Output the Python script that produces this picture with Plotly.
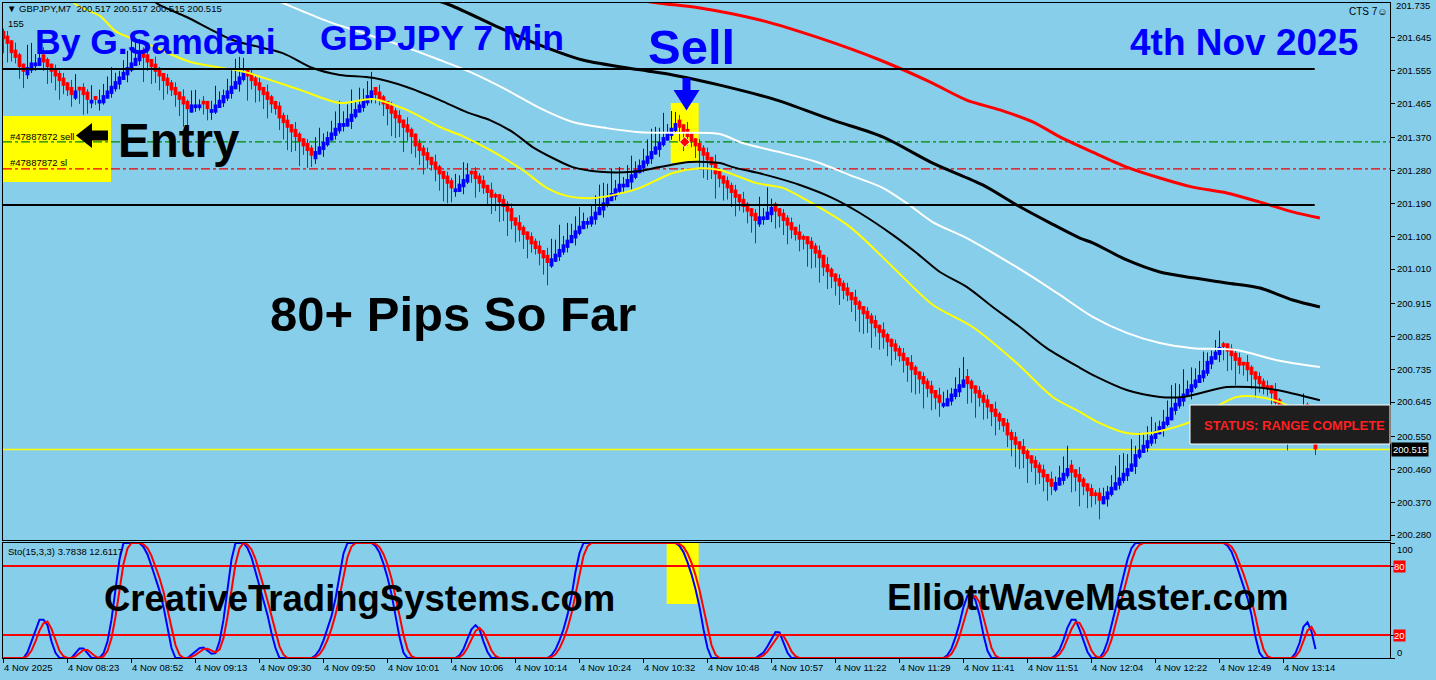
import numpy as np
import plotly.graph_objects as go

# ---------------- data ----------------
BRICK = 0.0128
PRIOR_CLOSE = 201.654
# one character per bar: u/d = one brick up/down, U/D = two, T = three down, +/- = small blue/red doji
MOVE_RUNS = [
    "d",
    "dDdDd",
    "uu+u",
    "ddddddddu-dd+-+",
    "uuuuuuuuuu",
    "dddddddddddd",
    "u++-d+",
    "uuuuuuuu",
    "dddddddd" "D" "dddddddd",
    "uuuuuuu" "+" "uuuuuuu",
    "dddddddddd" "D" "ddddddddd",
    "+uuu-",
    "ddddd" "-" "ddd" "D" "ddddddddd",
    "uuuuuuuuu" "+" "uuuuuuuu" "+" "uuuuuuuuuuuuu",
    "ddddddddd" "D" "dddddddddd",
    "u+uu",
    "ddddddd" "-" "dddd" "D" "dddddddddd" "dddddddddd" "ddddddddd",
    "+uuuuu",
    "dddddddddd" "D" "ddddddddddd",
    "uuuu",
    "dddddd-d",
    "uuuuuuuuU" "uuuuuuuuU" "uuuuuuuuU" "uuu",
    "-" "dddd-ddddd-d" "DdDDD" "UUU" "TTT",
]
WICK_LONG = [3.0, 4.0, 1.8, 1.2, 2.5, 3.5, 4.8, 4.2, 3.0, 5.2, 1.8, 3.6, 2.4]
WICK_SHORT = [0.5, 1.0, 0.0, 1.5, 0.3, 0.0, 0.8]

MA_YELLOW_X = [14.1, 18.3, 24.1, 28.3, 36.6, 46.6, 60.3, 74.1, 84.1, 92.3, 100.8, 109.1, 114.8, 121.6,
               129.8, 135.8, 140.8, 147.3, 152.3, 159.1, 167.3, 174.1, 179.1, 188.3, 194.8, 201.6,
               211.6, 222.3, 232.3, 242.3, 253.3, 262.3, 269.1, 274.1, 280.8, 286.6, 296.6, 308.3,
               317.3, 328.6]
MA_YELLOW_Y = [201.776, 201.735, 201.705, 201.661, 201.625, 201.579, 201.551, 201.502, 201.466, 201.477,
               201.447, 201.400, 201.375, 201.337, 201.282, 201.233, 201.211, 201.205, 201.213, 201.233,
               201.274, 201.287, 201.282, 201.246, 201.233, 201.194, 201.126, 201.016, 200.912, 200.851,
               200.752, 200.659, 200.618, 200.587, 200.560, 200.560, 200.590, 200.659, 200.651, 200.596]

MA_WHITE_X = [65.3, 74.1, 81.6, 89.1, 99.1, 109.1, 117.3, 125.8, 134.1, 142.3, 150.8, 159.1, 167.3,
              179.1, 184.8, 194.8, 203.3, 211.6, 219.8, 225.8, 232.3, 240.8, 249.1, 257.3, 264.1,
              272.3, 280.8, 289.1, 297.3, 308.3, 318.3, 329.1]
MA_WHITE_Y = [201.762, 201.721, 201.688, 201.661, 201.625, 201.584, 201.548, 201.502, 201.452, 201.414,
              201.397, 201.386, 201.384, 201.381, 201.356, 201.329, 201.304, 201.268, 201.233, 201.191,
              201.139, 201.095, 201.043, 200.988, 200.939, 200.879, 200.835, 200.807, 200.793, 200.788,
              200.760, 200.741]

MA_BLACK1_X = [36.6, 38.3, 45.8, 57.3, 69.8, 77.3, 84.1, 92.3, 100.8, 109.1, 115.8, 121.6, 127.3, 132.3,
               137.3, 142.3, 149.1, 157.3, 164.1, 171.6, 179.1, 182.3, 190.8, 199.1, 207.3, 214.1,
               222.3, 228.3, 234.1, 240.8, 247.3, 254.1, 260.8, 269.1, 273.3, 280.8, 289.1, 294.8,
               305.8, 311.6, 318.3, 329.1]
MA_BLACK1_Y = [201.762, 201.740, 201.702, 201.639, 201.603, 201.562, 201.543, 201.535, 201.510, 201.474,
               201.441, 201.419, 201.386, 201.345, 201.315, 201.290, 201.277, 201.277, 201.290, 201.304,
               201.301, 201.290, 201.268, 201.241, 201.205, 201.164, 201.104, 201.054, 201.002, 200.961,
               200.906, 200.851, 200.793, 200.739, 200.714, 200.678, 200.659, 200.659, 200.686, 200.686,
               200.678, 200.650]

MA_BLACK2_X = [104.1, 111.6, 124.1, 134.1, 144.8, 159.1, 167.3, 179.1, 193.3, 207.3, 219.8, 232.3,
               244.8, 253.3, 261.6, 269.1, 272.3, 280.8, 289.1, 297.3, 305.8, 314.1, 322.3, 329.1]
MA_BLACK2_Y = [201.762, 201.735, 201.672, 201.625, 201.584, 201.557, 201.543, 201.515, 201.474, 201.419,
               201.373, 201.301, 201.241, 201.186, 201.137, 201.095, 201.082, 201.035, 201.002, 200.986,
               200.972, 200.958, 200.925, 200.906]

MA_RED_X = [152.8, 164.1, 174.1, 189.1, 204.1, 219.1, 231.6, 240.8, 249.1, 257.3, 264.1, 272.3, 280.8,
            289.1, 297.3, 305.8, 314.1, 322.3, 329.1]
MA_RED_Y = [201.757, 201.740, 201.727, 201.694, 201.644, 201.584, 201.524, 201.474, 201.447, 201.414,
            201.373, 201.331, 201.290, 201.260, 201.235, 201.219, 201.194, 201.167, 201.150]

PRICE_TICKS = [201.735, 201.645, 201.555, 201.465, 201.370, 201.280, 201.190, 201.100, 201.010,
               200.915, 200.825, 200.735, 200.645, 200.550, 200.460, 200.370, 200.280]
TIME_LABELS = ["4 Nov 2025", "4 Nov 08:23", "4 Nov 08:52", "4 Nov 09:13", "4 Nov 09:30", "4 Nov 09:50",
               "4 Nov 10:01", "4 Nov 10:06", "4 Nov 10:14", "4 Nov 10:24", "4 Nov 10:32", "4 Nov 10:48",
               "4 Nov 10:57", "4 Nov 11:22", "4 Nov 11:29", "4 Nov 11:41", "4 Nov 11:51", "4 Nov 12:04",
               "4 Nov 12:22", "4 Nov 12:49", "4 Nov 13:14"]
TIME_TICK_STEP = 16
STOCH_K, STOCH_SLOW, STOCH_D = 15, 3, 3
STOCH_LEVELS = [80, 20]

HLINES_BLACK = [201.559, 201.186]
ENTRY_PRICE = 201.359
SL_PRICE = 201.285
BID_PRICE = 200.515
SELL_BAR = 170.3

# ---------------- build candles ----------------
MOVE = {'u': 1, 'U': 2, 'd': -1, 'D': -2, 'T': -3, '+': 0, '-': 0}
codes = "".join(MOVE_RUNS)
n = len(codes)
opens, closes, highs, lows, ups = [], [], [], [], []
prev = PRIOR_CLOSE
for i, ch in enumerate(codes):
    m = MOVE[ch]
    c = prev + m * BRICK
    up = ch in "uU+"
    if m != 0:
        o = prev - np.sign(m) * 0.75 * BRICK
    else:
        o = c - 0.8 * BRICK if up else c + 0.8 * BRICK
    wl = WICK_LONG[i % len(WICK_LONG)] * BRICK * (0.6 if m == 0 else 1.0)
    ws = WICK_SHORT[i % len(WICK_SHORT)] * BRICK
    if up:
        h, l = max(o, c) + wl, min(o, c) - ws
    else:
        h, l = max(o, c) + ws, min(o, c) - wl
    opens.append(o); closes.append(c); highs.append(h); lows.append(l); ups.append(up)
    prev = c

C = np.array(closes)
ll = np.array([C[max(0, i - STOCH_K + 1):i + 1].min() for i in range(n)])
hh = np.array([C[max(0, i - STOCH_K + 1):i + 1].max() for i in range(n)])
num, den = C - ll, hh - ll
st_main = np.zeros(n)
for i in range(n):
    s = slice(max(0, i - STOCH_SLOW + 1), i + 1)
    d = den[s].sum()
    st_main[i] = 100 * num[s].sum() / d if d > 0 else 0.0
st_sig = np.array([st_main[max(0, i - STOCH_D + 1):i + 1].mean() for i in range(n)])

# ---------------- figure ----------------
W, H = 1436, 680
ML, MR, MT, MB = 3, 46, 3, 22
PW, PH = W - ML - MR, H - MT - MB
X_MIN = -0.125
X_MAX = X_MIN + PW / 4.0
Y_TOP_PX, Y_BOT_PX = 3, 540
PX_PER_UNIT = 530 / (201.735 - 200.280)
Y_MAX = 201.735 + (5 - Y_TOP_PX) / PX_PER_UNIT
Y_MIN = 201.735 - (Y_BOT_PX - 5) / PX_PER_UNIT


def PX(x):
    return (x - ML) / PW


def PY(y):
    return (H - MB - y) / PH


def path(points):
    return "M " + " L ".join("%.5f,%.5f" % (PX(x), PY(y)) for x, y in points) + " Z"


BG = "#87CEEB"
FONT = "Liberation Sans"
fig = go.Figure()

for is_up, col in ((False, "#e00000"), (True, "#0000ff")):
    xs, ys = [], []
    for i in range(n):
        if ups[i] == is_up:
            xs += [i, i, None]
            ys += [lows[i], highs[i], None]
    fig.add_trace(go.Scatter(x=xs, y=ys, mode="lines", line=dict(color=col, width=1),
                             hoverinfo="skip", xaxis="x", yaxis="y"))

fig.add_trace(go.Bar(x=list(range(n)), y=[abs(c - o) for o, c in zip(opens, closes)],
                     base=[min(o, c) for o, c in zip(opens, closes)], width=0.95,
                     marker=dict(color=["#0000ff" if u else "#ff0000" for u in ups], line=dict(width=0)),
                     hoverinfo="skip", xaxis="x", yaxis="y"))

for xs, ys, col, w in ((MA_YELLOW_X, MA_YELLOW_Y, "#ffff00", 2),
                       (MA_WHITE_X, MA_WHITE_Y, "#ffffff", 2),
                       (MA_BLACK1_X, MA_BLACK1_Y, "#000000", 2),
                       (MA_BLACK2_X, MA_BLACK2_Y, "#000000", 3),
                       (MA_RED_X, MA_RED_Y, "#ff0000", 3)):
    fig.add_trace(go.Scatter(x=xs, y=ys, mode="lines", line=dict(color=col, width=w, shape="spline", smoothing=0.8),
                             hoverinfo="skip", xaxis="x", yaxis="y"))

fig.add_trace(go.Scatter(x=[SELL_BAR], y=[ENTRY_PRICE], mode="markers",
                         marker=dict(symbol="diamond", size=8, color="#ff0000", line=dict(color="white", width=1)),
                         hoverinfo="skip", xaxis="x", yaxis="y"))

fig.add_trace(go.Scatter(x=list(range(n)), y=st_main, mode="lines", line=dict(color="#0000ff", width=2),
                         hoverinfo="skip", xaxis="x2", yaxis="y2"))
fig.add_trace(go.Scatter(x=list(range(n)), y=st_sig, mode="lines", line=dict(color="#ff0000", width=2),
                         hoverinfo="skip", xaxis="x2", yaxis="y2"))

shapes = []
# yellow highlight boxes (below)
shapes.append(dict(type="rect", xref="paper", yref="paper", x0=PX(3), x1=PX(111), y0=PY(182), y1=PY(116),
                   fillcolor="#ffff00", line=dict(width=0), layer="below"))
shapes.append(dict(type="rect", xref="x", yref="y", x0=166.8, x1=173.8, y0=201.301, y1=201.466,
                   fillcolor="#ffff00", line=dict(width=0), layer="below"))
shapes.append(dict(type="rect", xref="x2", yref="y2", x0=165.8, x1=173.8, y0=47, y1=100,
                   fillcolor="#ffff00", line=dict(width=0), layer="below"))
# order lines
shapes.append(dict(type="line", xref="x", yref="y", x0=X_MIN, x1=X_MAX, y0=ENTRY_PRICE, y1=ENTRY_PRICE,
                   line=dict(color="#008800", width=1.3, dash="dashdot"), layer="below"))
shapes.append(dict(type="line", xref="x", yref="y", x0=X_MIN, x1=X_MAX, y0=SL_PRICE, y1=SL_PRICE,
                   line=dict(color="#ee0000", width=1.3, dash="dashdot"), layer="below"))
shapes.append(dict(type="line", xref="x", yref="y", x0=X_MIN, x1=X_MAX, y0=BID_PRICE, y1=BID_PRICE,
                   line=dict(color="#ffff00", width=1.5), layer="below"))
for lv in STOCH_LEVELS:
    shapes.append(dict(type="line", xref="x2", yref="y2", x0=X_MIN, x1=X_MAX, y0=lv, y1=lv,
                       line=dict(color="#ff0000", width=2), layer="below"))
for p in HLINES_BLACK:
    shapes.append(dict(type="line", xref="x", yref="y", x0=X_MIN, x1=327.8, y0=p, y1=p,
                       line=dict(color="#000000", width=2), layer="above"))
# arrows
shapes.append(dict(type="path", xref="paper", yref="paper", layer="above", fillcolor="#0000ff",
                   line=dict(width=0),
                   path=path([(682.5, 78), (690.5, 78), (690.5, 90), (699.5, 90), (686.5, 110.5),
                              (673.5, 90), (682.5, 90)])))
shapes.append(dict(type="path", xref="paper", yref="paper", layer="above", fillcolor="#000000",
                   line=dict(width=0),
                   path=path([(76, 135.5), (92, 123), (92, 130.5), (108, 130.5), (108, 140.5),
                              (92, 140.5), (92, 148)])))
# status box
shapes.append(dict(type="rect", xref="paper", yref="paper", x0=PX(1190), x1=PX(1390), y0=PY(444), y1=PY(405),
                   fillcolor="#1e1e1e", line=dict(color="white", width=1), layer="above"))

ann = []


def text(x, y, s, size, color="black", bold=False, xanchor="left", yanchor="middle", **kw):
    ann.append(dict(x=PX(x), y=PY(y), xref="paper", yref="paper", text=("<b>%s</b>" % s) if bold else s,
                    showarrow=False, xanchor=xanchor, yanchor=yanchor,
                    font=dict(family=FONT, size=size, color=color), **kw))


text(33, 42, "By G.Samdani", 35.5, "#0000ff", True)
text(318, 38, "GBPJPY 7 Min", 35.5, "#0000ff", True)
text(646, 47, "Sell", 49, "#0000ff", True)
text(1128, 42, "4th Nov 2025", 37, "#0000ff", True)
text(116, 140, "Entry", 47.5, "black", True)
text(268, 314, "80+ Pips So Far", 49, "black", True)
text(102, 598, "CreativeTradingSystems.com", 36.5, "black", True)
text(885, 597, "ElliottWaveMaster.com", 37, "black", True)
text(5, 9, "▼ GBPJPY,M7  200.517 200.517 200.515 200.515", 9.5)
text(6, 23, "155", 9.5)
text(1347, 12, "CTS 7☺", 10)
text(8, 136, "#47887872 sell", 9.5)
text(8, 163, "#47887872 sl", 9.5)
text(6, 551, "Sto(15,3,3) 3.7838 12.6117", 9.5)
text(1294, 426, "STATUS: RANGE COMPLETE", 13, "#ff2020", True, xanchor="center")
text(1394, 5, "201.735", 9.5)
text(1395, 549, "100", 9.5)
text(1395, 652, "0", 9.5)
text(1393, 566, "80", 9.5, "white", bgcolor="#ff0000", borderpad=0)
text(1393, 635, "20", 9.5, "white", bgcolor="#ff0000", borderpad=0)
ann.append(dict(x=PX(1391), y=BID_PRICE, xref="paper", yref="y", text="200.515", showarrow=False,
                xanchor="left", yanchor="middle", bgcolor="#000000", borderpad=1,
                font=dict(family=FONT, size=9.5, color="white")))
for k, lab in enumerate(TIME_LABELS):
    ann.append(dict(x=k * TIME_TICK_STEP, y=0, xref="x2", yref="paper", text=lab, showarrow=False,
                    xanchor="left", yanchor="top", yshift=-2, xshift=-2,
                    font=dict(family=FONT, size=9.5, color="black")))

axis_common = dict(showgrid=False, zeroline=False, showline=True, linecolor="black", linewidth=1, mirror=True)
fig.update_layout(
    width=W, height=H, margin=dict(l=ML, r=MR, t=MT, b=MB),
    paper_bgcolor=BG, plot_bgcolor=BG, showlegend=False, barmode="overlay",
    font=dict(family=FONT, size=9.5, color="black"),
    xaxis=dict(domain=[0, 1], range=[X_MIN, X_MAX], anchor="y", showticklabels=False, ticks="", **axis_common),
    yaxis=dict(domain=[(H - MB - Y_BOT_PX) / PH, 1], range=[Y_MIN, Y_MAX], anchor="x", side="right",
               tickvals=PRICE_TICKS[1:], ticktext=["%.3f" % v for v in PRICE_TICKS[1:]], ticks="outside",
               ticklen=4, tickcolor="black", tickfont=dict(family=FONT, size=9.5, color="black"), **axis_common),
    xaxis2=dict(domain=[0, 1], range=[X_MIN, X_MAX], anchor="y2", showticklabels=False, ticks="outside",
                ticklen=4, tickcolor="black", tickvals=[k * TIME_TICK_STEP for k in range(len(TIME_LABELS))],
                **axis_common),
    yaxis2=dict(domain=[0, (H - MB - 543) / PH], range=[0, 100], anchor="x2", side="right",
                tickvals=[100, 80, 20, 0], ticks="outside", ticklen=4, tickcolor="black",
                showticklabels=False, **axis_common),
    shapes=shapes, annotations=ann,
)

fig.write_html("out.html", config={"displayModeBar": False},
               post_script="document.body.style.margin='0';document.body.style.overflow='hidden';")
